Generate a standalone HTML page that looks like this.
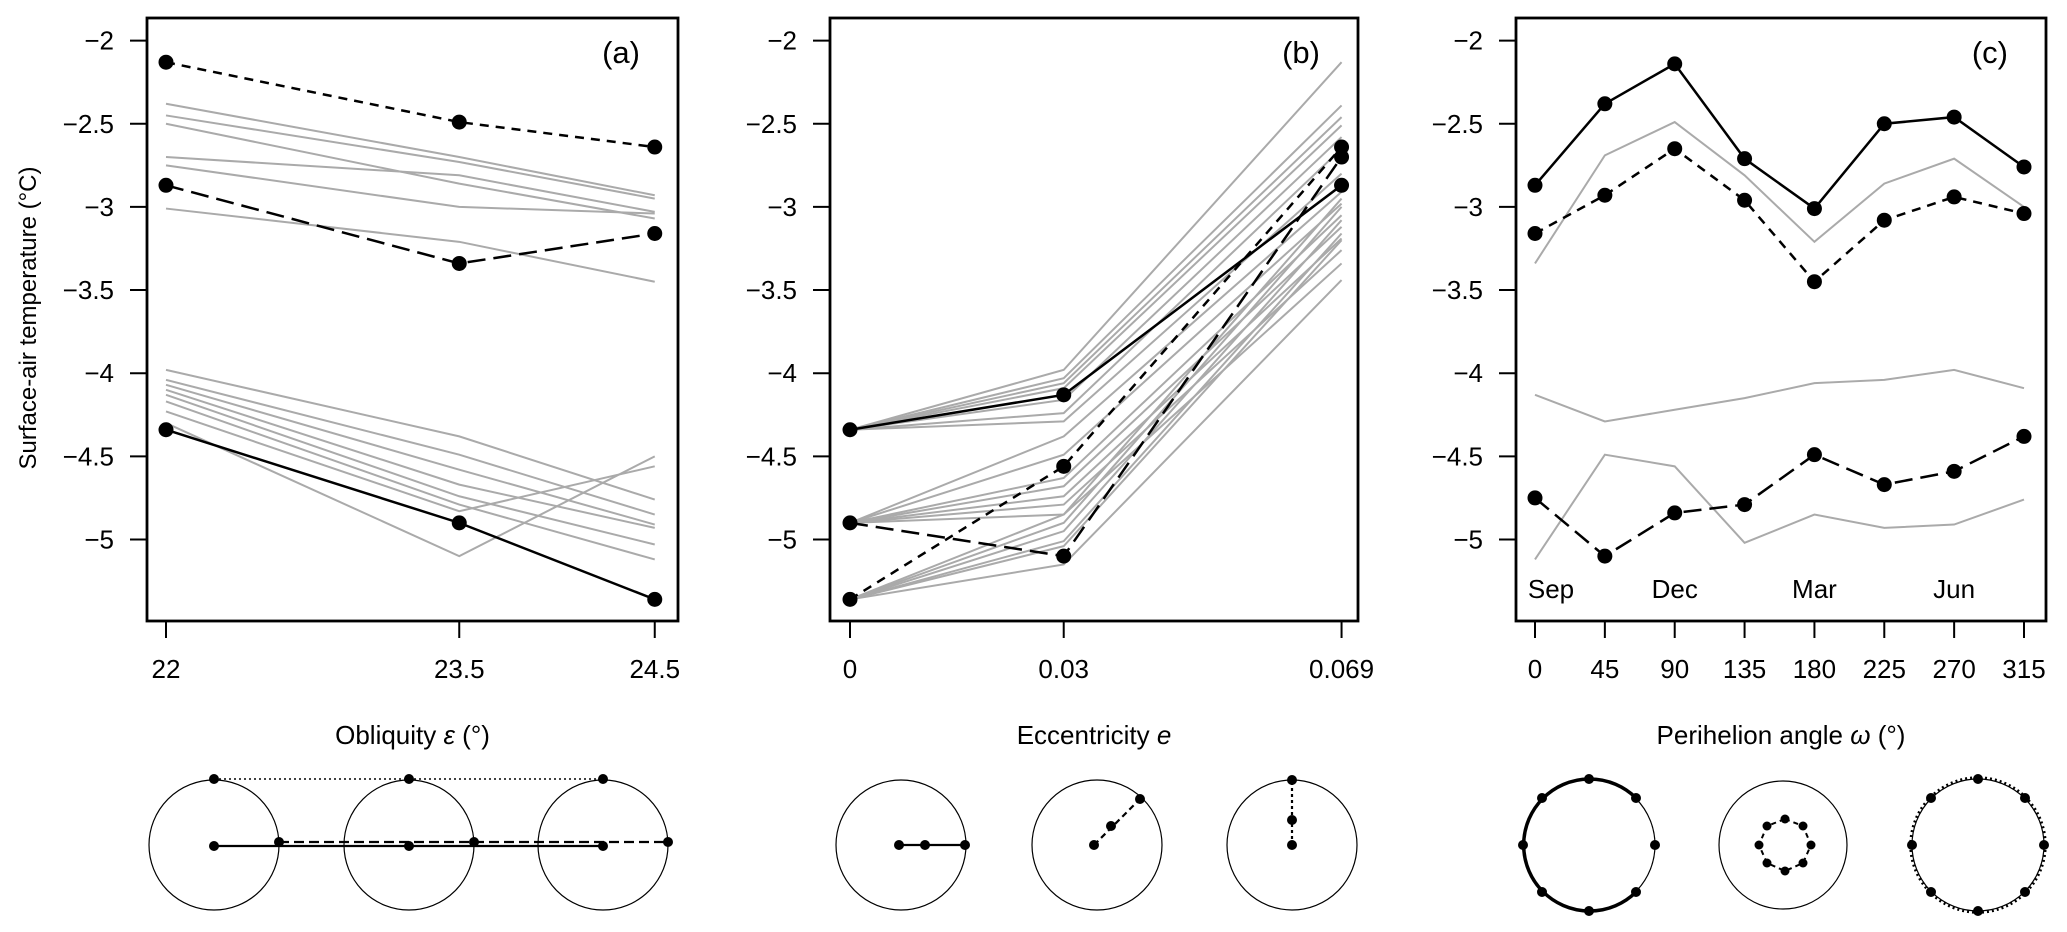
<!DOCTYPE html>
<html><head><meta charset="utf-8"><style>
html,body{margin:0;padding:0;background:#fff;}
svg{display:block;font-family:"Liberation Sans",Arial,sans-serif;}
</style></head><body>
<svg id="chart" width="2067" height="932" viewBox="0 0 2067 932" xmlns="http://www.w3.org/2000/svg">
<text x="0" y="0" transform="translate(36,318) rotate(-90)" text-anchor="middle" font-size="24">Surface-air temperature (°C)</text>
<g id="diagrams" fill="none" stroke="#000">
  <g>
    <circle cx="214" cy="845" r="65" stroke-width="1.2"/>
    <circle cx="409" cy="845" r="65" stroke-width="1.2"/>
    <circle cx="603" cy="845" r="65" stroke-width="1.2"/>
    <line x1="214" y1="779" x2="603" y2="779" stroke-width="1.5" stroke-dasharray="2,3"/>
    <line x1="214" y1="846" x2="603" y2="846" stroke-width="2.2"/>
    <line x1="279" y1="842" x2="668" y2="842" stroke-width="2.2" stroke-dasharray="10,5"/>
    <g fill="#000" stroke="none">
      <circle cx="214" cy="779" r="5"/><circle cx="409" cy="779" r="5"/><circle cx="603" cy="779" r="5"/>
      <circle cx="214" cy="846" r="5"/><circle cx="409" cy="846" r="5"/><circle cx="603" cy="846" r="5"/>
      <circle cx="279" cy="842" r="5"/><circle cx="474" cy="842" r="5"/><circle cx="668" cy="842" r="5"/>
    </g>
  </g>
  <g>
    <circle cx="901" cy="845" r="65" stroke-width="1.2"/>
    <circle cx="1097" cy="845" r="65" stroke-width="1.2"/>
    <circle cx="1292" cy="845" r="65" stroke-width="1.2"/>
    <line x1="899" y1="845" x2="965" y2="845" stroke-width="2.2"/>
    <line x1="1094" y1="845" x2="1140" y2="799" stroke-width="2.2" stroke-dasharray="6,4"/>
    <line x1="1292" y1="845" x2="1292" y2="780" stroke-width="2.2" stroke-dasharray="3,3"/>
    <g fill="#000" stroke="none">
      <circle cx="899" cy="845" r="5"/><circle cx="925" cy="845" r="5"/><circle cx="965" cy="845" r="5"/>
      <circle cx="1094" cy="845" r="5"/><circle cx="1111" cy="826" r="5"/><circle cx="1140" cy="799" r="5"/>
      <circle cx="1292" cy="845" r="5"/><circle cx="1292" cy="820" r="5"/><circle cx="1292" cy="780" r="5"/>
    </g>
  </g>
  <g>
    <circle cx="1589" cy="845" r="66" stroke-width="1.2"/>
    <path d="M1636 798 A66 66 0 1 0 1636 892" stroke-width="3.5"/>
    <circle cx="1783" cy="845" r="64" stroke-width="1.2"/>
    <polygon points="1785,819 1803,826 1811,845 1803,863 1785,871 1767,863 1759,845 1767,826" stroke-width="2" stroke-dasharray="5,4"/>
    <circle cx="1978" cy="845" r="66" stroke-width="1.2"/>
    <circle cx="1978" cy="845" r="67.5" stroke-width="2.5" stroke-dasharray="2,3"/>
    <g fill="#000" stroke="none">
      <circle cx="1589" cy="779" r="5"/><circle cx="1636" cy="798" r="5"/><circle cx="1655" cy="845" r="5"/><circle cx="1636" cy="892" r="5"/>
      <circle cx="1589" cy="911" r="5"/><circle cx="1542" cy="892" r="5"/><circle cx="1523" cy="845" r="5"/><circle cx="1542" cy="798" r="5"/>
      <circle cx="1785" cy="819" r="4.5"/><circle cx="1803" cy="826" r="4.5"/><circle cx="1811" cy="845" r="4.5"/><circle cx="1803" cy="863" r="4.5"/>
      <circle cx="1785" cy="871" r="4.5"/><circle cx="1767" cy="863" r="4.5"/><circle cx="1759" cy="845" r="4.5"/><circle cx="1767" cy="826" r="4.5"/>
      <circle cx="1978" cy="779" r="5"/><circle cx="2025" cy="798" r="5"/><circle cx="2044" cy="845" r="5"/><circle cx="2025" cy="892" r="5"/>
      <circle cx="1978" cy="911" r="5"/><circle cx="1931" cy="892" r="5"/><circle cx="1912" cy="845" r="5"/><circle cx="1931" cy="798" r="5"/>
    </g>
  </g>
</g>
</svg>
<script>
const yTicks = [-2, -2.5, -3, -3.5, -4, -4.5, -5];
const yTickLabels = ["\u22122", "\u22122.5", "\u22123", "\u22123.5", "\u22124", "\u22124.5", "\u22125"];

const aX = [22, 23.5, 24.5];
const aXLabels = ["22", "23.5", "24.5"];
const aGrey = [
  [-2.38, -2.70, -2.93], [-2.45, -2.73, -2.95], [-2.50, -2.86, -3.07], [-2.70, -2.81, -3.03],
  [-2.75, -3.00, -3.04], [-3.01, -3.21, -3.45],
  [-3.98, -4.38, -4.76], [-4.04, -4.49, -4.85], [-4.07, -4.58, -4.91], [-4.10, -4.67, -4.93],
  [-4.13, -4.74, -5.03], [-4.17, -4.79, -5.12], [-4.23, -4.83, -4.56], [-4.30, -5.10, -4.50]
];
const aSolid = [-4.34, -4.90, -5.36];
const aShortDash = [-2.13, -2.49, -2.64];
const aLongDash = [-2.87, -3.34, -3.16];

const bX = [0, 0.03, 0.069];
const bXLabels = ["0", "0.03", "0.069"];
const bGrey = [
  [-4.34, -3.98, -2.13], [-4.34, -4.03, -2.39], [-4.34, -4.06, -2.46], [-4.34, -4.09, -2.51],
  [-4.34, -4.16, -2.58], [-4.34, -4.24, -2.65], [-4.34, -4.29, -2.80],
  [-4.90, -4.38, -2.91], [-4.90, -4.49, -2.98], [-4.90, -4.63, -3.05], [-4.90, -4.68, -3.12],
  [-4.90, -4.74, -3.19], [-4.90, -4.79, -3.26], [-4.90, -4.85, -3.34],
  [-5.36, -4.85, -2.95], [-5.36, -4.90, -3.00], [-5.36, -4.95, -3.08], [-5.36, -5.01, -3.16],
  [-5.36, -5.04, -3.20], [-5.36, -5.15, -3.44]
];
const bSolid = [-4.34, -4.13, -2.87];
const bShortDash = [-5.36, -4.56, -2.64];
const bLongDash = [-4.90, -5.10, -2.70];

const cX = [0, 45, 90, 135, 180, 225, 270, 315];
const cXLabels = ["0", "45", "90", "135", "180", "225", "270", "315"];
const cMonths = ["Sep", "Dec", "Mar", "Jun"];
const cMonthX = [0, 90, 180, 270];
const cGrey = [
  [-3.34, -2.69, -2.49, -2.81, -3.21, -2.86, -2.71, -3.00],
  [-4.13, -4.29, -4.22, -4.15, -4.06, -4.04, -3.98, -4.09],
  [-5.12, -4.49, -4.56, -5.02, -4.85, -4.93, -4.91, -4.76]
];
const cSolid = [-2.87, -2.38, -2.14, -2.71, -3.01, -2.50, -2.46, -2.76];
const cShortDash = [-3.16, -2.93, -2.65, -2.96, -3.45, -3.08, -2.94, -3.04];
const cLongDash = [-4.75, -5.10, -4.84, -4.79, -4.49, -4.67, -4.59, -4.38];

const NS = "http://www.w3.org/2000/svg";
const svg = document.getElementById("chart");
function mk(tag, attrs, parent) {
  const e = document.createElementNS(NS, tag);
  for (const k in attrs) e.setAttribute(k, attrs[k]);
  (parent || svg).appendChild(e);
  return e;
}
function yScale(v) { return 40.6 + (-2 - v) * 166.3; }

function panel(opt) {
  const g = mk("g", {});
  
  
  const xs = v => opt.x0 + (v - opt.d0) * opt.k;
  yTicks.forEach((t, i) => {
    const y = yScale(t);
    const tk = mk("line", {x1: opt.left - 17, x2: opt.left, y1: y, y2: y, stroke: "#000", "stroke-width": 2}, g);
    
    
    const tl = mk("text", {x: opt.left - 33, y: y + 9, "text-anchor": "end", "font-size": 26}, g);
    
    
    tl.textContent = yTickLabels[i];
  });
  opt.xv.forEach((v, i) => {
    const x = xs(v);
    const tk = mk("line", {x1: x, x2: x, y1: 621, y2: 638, stroke: "#000", "stroke-width": 2}, g);
    
    
    const tl = mk("text", {x: x, y: 678, "text-anchor": "middle", "font-size": 26}, g);
    
    
    tl.textContent = opt.xl[i];
  });
  opt.grey.forEach(s => {
    const p = mk("polyline", {points: s.map((v, i) => xs(opt.xv[i]) + "," + yScale(v)).join(" "), fill: "none", stroke: "#aaaaaa", "stroke-width": 2}, g);
    
    
  });
  const blacks = [[opt.solid, "none", "solid-series"], [opt.shortd, "9,7", "short-dashed-series"], [opt.longd, "18,8", "long-dashed-series"]];
  blacks.forEach(b => {
    const p = mk("polyline", {points: b[0].map((v, i) => xs(opt.xv[i]) + "," + yScale(v)).join(" "), fill: "none", stroke: "#000", "stroke-width": 2.5, "stroke-dasharray": b[1]}, g);
    
    
    b[0].forEach((v, i) => {
      const c = mk("circle", {cx: xs(opt.xv[i]), cy: yScale(v), r: 7.5, fill: "#000"}, g);
      
      
    });
  });
  if (opt.months) {
    opt.months.forEach((m, i) => {
      const t = mk("text", {x: xs(cMonthX[i]) + (i === 0 ? 16 : 0), y: 598, "text-anchor": "middle", "font-size": 26}, g);
      
      
      t.textContent = m;
    });
  }
  const box = mk("rect", {x: opt.left, y: 18, width: opt.right - opt.left, height: 603, fill: "none", stroke: "#000", "stroke-width": 2.8}, g);
  
  
  const lab = mk("text", {x: opt.right - 38, y: 63, "text-anchor": "end", "font-size": 31}, g);
  
  
  lab.textContent = opt.label;
  const tt = mk("text", {x: (opt.left + opt.right) / 2, y: 744, "text-anchor": "middle", "font-size": 26}, g);
  
  
  tt.innerHTML = opt.title;
}

panel({name: "panel-a-obliquity", left: 147, right: 678, x0: 166, d0: 22, k: 195.5, xv: aX, xl: aXLabels,
  grey: aGrey, solid: aSolid, shortd: aShortDash, longd: aLongDash, label: "(a)",
  title: 'Obliquity <tspan font-style="italic">ε</tspan> (°)'});
panel({name: "panel-b-eccentricity", left: 830, right: 1358, x0: 850, d0: 0, k: 7124, xv: bX, xl: bXLabels,
  grey: bGrey, solid: bSolid, shortd: bShortDash, longd: bLongDash, label: "(b)",
  title: 'Eccentricity <tspan font-style="italic">e</tspan>'});
panel({name: "panel-c-perihelion", left: 1516, right: 2046, x0: 1535, d0: 0, k: 489 / 315, xv: cX, xl: cXLabels,
  grey: cGrey, solid: cSolid, shortd: cShortDash, longd: cLongDash, label: "(c)", months: cMonths,
  title: 'Perihelion angle <tspan font-style="italic">ω</tspan> (°)'});
</script>
</body></html>
